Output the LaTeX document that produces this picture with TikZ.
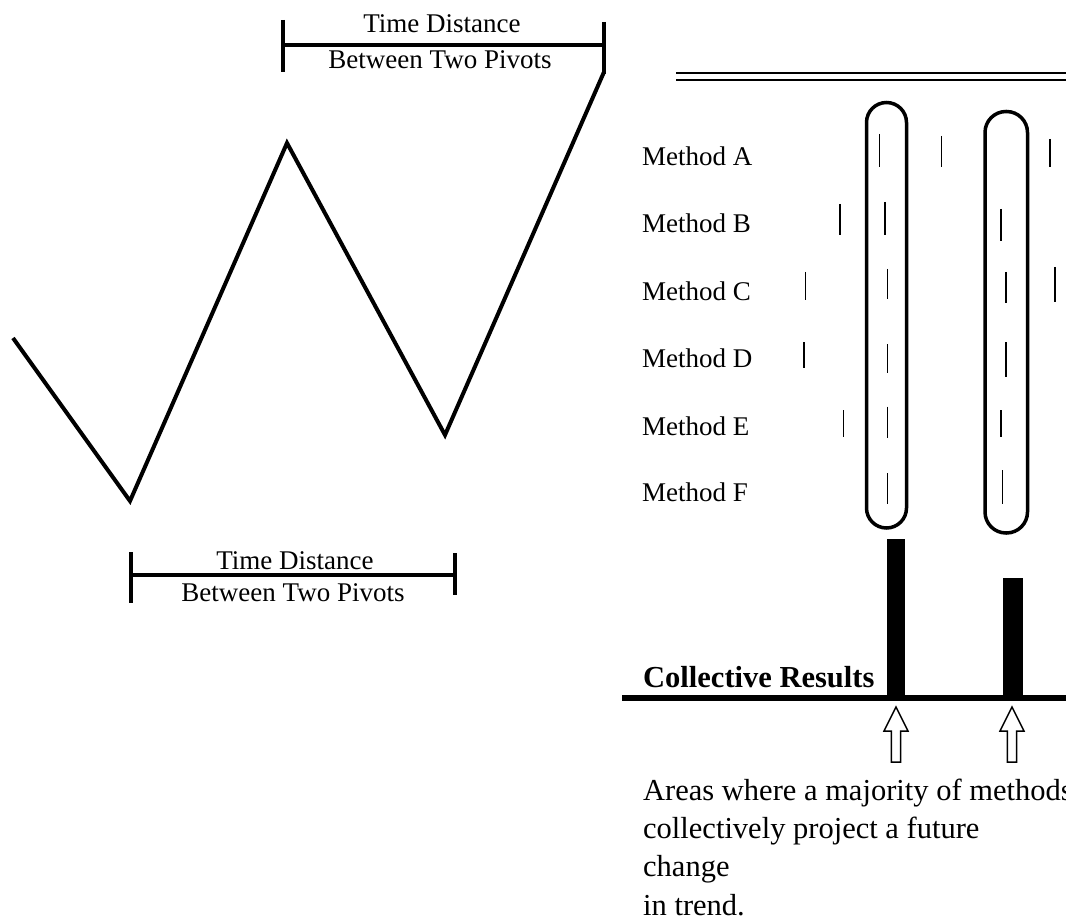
\documentclass[tikz,border=0pt]{standalone}
\usepackage{fontspec}
\setmainfont{Liberation Serif}
\begin{document}
\begin{tikzpicture}[x=1pt,y=-1pt,
  zig/.style={line width=4pt, line join=miter},
  brk/.style={line width=4pt},
  lbl/.style={inner sep=0pt, font=\fontsize{27}{30}\selectfont},
  meth/.style={inner sep=0pt, anchor=base west, font=\fontsize{27}{30}\selectfont},
  big/.style={inner sep=0pt, anchor=base west, font=\fontsize{30.5}{38}\selectfont},
  pill/.style={line width=3.5pt},
  tick/.style={line width=1.5pt},
  bar/.style={fill=black, draw=none},
  hollow/.style={draw=black, fill=white, line width=1.5pt, line join=miter}
]
\useasboundingbox (0,0) rectangle (1066,920);
\clip (0,0) rectangle (1066,920);

% zigzag
\coordinate (z0) at (13,338);
\coordinate (z1) at (130,501);
\coordinate (z2) at (287,143);
\coordinate (z3) at (445,435);
\coordinate (z4) at (604,72);
\draw[zig] (z0) -- (z1) -- (z2) -- (z3) -- (z4);

% top bracket
\draw[brk] (283,20) -- (283,72);
\draw[brk] (604,22) -- (604,74);
\draw[brk] (283,45) -- (604,45);
\node[lbl, anchor=base] (t1) at (442,33) {Time Distance};
\node[lbl, anchor=base] (t2) at (440,69) {Between Two Pivots};

% bottom bracket
\draw[brk] (131,552) -- (131,603);
\draw[brk] (455,553) -- (455,595);
\draw[brk] (131,575) -- (455,575);
\node[lbl, anchor=base] (b1) at (295,569) {Time Distance};
\node[lbl, anchor=base] (b2) at (293,601) {Between Two Pivots};

% double line
\draw[line width=2pt] (676,73.5) -- (1070,73.5);
\draw[line width=2pt] (676,80) -- (1070,80);

% method labels
\node[meth] (mA) at (642,166) {Method A};
\node[meth] (mB) at (642,233) {Method B};
\node[meth] (mC) at (642,300) {Method C};
\node[meth] (mD) at (642,367.5) {Method D};
\node[meth] (mE) at (642,435) {Method E};
\node[meth] (mF) at (642,501.5) {Method F};

% pills
\draw[pill, rounded corners=20pt] (866.5,102.5) rectangle (906.5,528);
\draw[pill, rounded corners=21pt] (985,111.5) rectangle (1027.5,533);

% ticks
\draw[tick] (879.5,134) -- (879.5,167);
\draw[tick] (941.5,136) -- (941.5,167);
\draw[tick] (1050,139) -- (1050,167);
\draw[tick] (840,204) -- (840,235);
\draw[tick] (885,202) -- (885,235);
\draw[tick] (1001,209) -- (1001,241.5);
\draw[tick] (805.5,272) -- (805.5,300);
\draw[tick] (887.5,269) -- (887.5,299);
\draw[tick] (1006,272) -- (1006,303);
\draw[tick] (1055,267) -- (1055,301.5);
\draw[tick] (804,342) -- (804,367.5);
\draw[tick] (887.5,344) -- (887.5,372.5);
\draw[tick] (1006,342) -- (1006,376.5);
\draw[tick] (843.5,410) -- (843.5,437);
\draw[tick] (887.5,406.5) -- (887.5,437.5);
\draw[tick] (1001,410) -- (1001,437);
\draw[tick] (887.5,473) -- (887.5,504);
\draw[tick] (1002.5,470) -- (1002.5,504);

% bars and baseline
\fill[bar] (887.3,539.3) rectangle (905.3,698);
\fill[bar] (1003.3,577.7) rectangle (1023.3,698);
\draw[line width=6pt] (622,698) -- (1070,698);
\node[big, font=\fontsize{30.5}{38}\selectfont\bfseries] (cr) at (643,687) {Collective Results};

% hollow arrows
\foreach \cx/\nm in {896/ar1, 1012/ar2}{
  \draw[hollow] (\cx,707) -- (\cx+12,731) -- (\cx+4.7,731) -- (\cx+4.7,762)
    -- (\cx-4.7,762) -- (\cx-4.7,731) -- (\cx-12,731) -- cycle;
}

% bottom text
\node[big] (n1) at (643,800) {Areas where a majority of methods};
\node[big] (n2) at (643,838) {collectively project a future};
\node[big] (n3) at (643,876.5) {change};
\node[big] (n4) at (643,915) {in trend.};
\end{tikzpicture}
\end{document}
